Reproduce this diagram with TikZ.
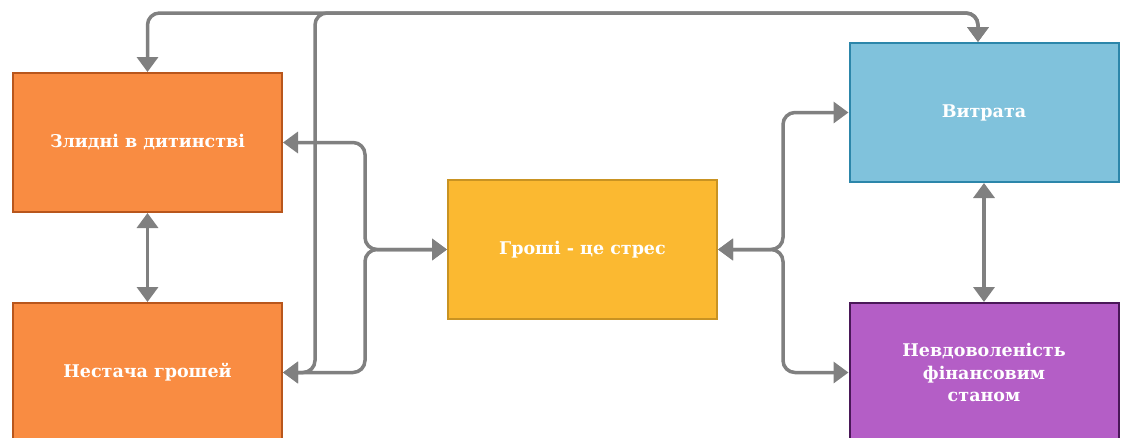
\documentclass[tikz,border=0pt]{standalone}
\usepackage{fontspec}
\setmainfont{DejaVu Serif}
\usetikzlibrary{arrows.meta}
\definecolor{orfill}{HTML}{F98C42}
\definecolor{ordraw}{HTML}{B8561C}
\definecolor{yefill}{HTML}{FBB931}
\definecolor{yedraw}{HTML}{C99322}
\definecolor{blfill}{HTML}{80C2DC}
\definecolor{bldraw}{HTML}{2C86AA}
\definecolor{pufill}{HTML}{B45EC6}
\definecolor{pudraw}{HTML}{4A1858}
\definecolor{conn}{HTML}{808080}
\tikzset{
  box/.style={rectangle, minimum width=269pt, minimum height=139pt, line width=2pt,
    text=white, font=\bfseries\fontsize{17.5}{22.5}\selectfont, align=center, inner sep=0pt},
  orbox/.style={box, fill=orfill, draw=ordraw},
  yebox/.style={box, fill=yefill, draw=yedraw},
  blbox/.style={box, fill=blfill, draw=bldraw},
  pubox/.style={box, fill=pufill, draw=pudraw},
  link/.style={draw=conn, line width=3.5pt, rounded corners=12pt,
    {Triangle[length=15pt,width=21pt]}-{Triangle[length=15pt,width=21pt]}},
}
\begin{document}
\begin{tikzpicture}[x=1pt,y=-1pt]
\clip (0,0) rectangle (1122,437);
\fill[white] (0,0) rectangle (1122,437);
\node[orbox] (zl) at (147.5,142.5) {Злидні в дитинстві};
\node[orbox] (ne) at (147.5,372.5) {Нестача грошей};
\node[yebox] (gr) at (582.5,249.5) {Гроші - це стрес};
\node[blbox] (vy) at (984,112.5) {Витрата};
\node[pubox] (nv) at (984,372.5) {Невдоволеність\\фінансовим\\станом};
\coordinate (vtop) at ([xshift=-6pt]vy.north);
\coordinate (lj) at (365,249.5);
\coordinate (rj) at (783,249.5);
% vertical links
\draw[link] (zl.south) -- (ne.north);
\draw[link] (vy.south) -- (nv.north);
% left bracket
\draw[link] (zl.east) -- (zl.east -| lj) -- (lj) -- (gr.west);
\draw[link] (ne.east) -- (ne.east -| lj) -- (lj) -- (gr.west);
% right bracket
\draw[link] (vy.west) -- (vy.west -| rj) -- (rj) -- (gr.east);
\draw[link] (nv.west) -- (nv.west -| rj) -- (rj) -- (gr.east);
% top links
\draw[link] (zl.north) -- (147.5,13) -- (vtop |- 0,13) -- (vtop);
\draw[link] (ne.east) -- (315,372.5) -- (315,13) -- (vtop |- 0,13) -- (vtop);
\end{tikzpicture}
\end{document}
